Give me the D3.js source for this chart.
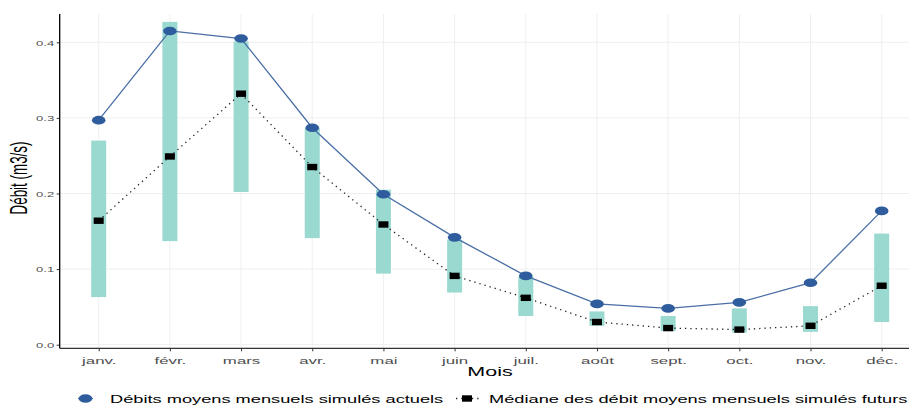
<!DOCTYPE html>
<html>
<head>
<meta charset="utf-8">
<script src="https://cdn.jsdelivr.net/npm/d3@7"></script>
<style>
  html, body { margin: 0; padding: 0; background: #fff; overflow: hidden; }
  svg { display: block; font-family: "Liberation Sans", Arial, sans-serif; }
</style>
</head>
<body>
<svg id="chart" width="909" height="405"></svg>
<script>
// ---- data ----
const months = ["janv.", "févr.", "mars", "avr.", "mai", "juin", "juil.", "août", "sept.", "oct.", "nov.", "déc."];
const actualMean = [0.297, 0.415, 0.405, 0.287, 0.199, 0.142, 0.091, 0.054, 0.048, 0.056, 0.082, 0.177];
const futureMedian = [0.164, 0.249, 0.332, 0.235, 0.159, 0.091, 0.062, 0.030, 0.022, 0.020, 0.025, 0.078];
const futureLow = [0.063, 0.137, 0.202, 0.141, 0.094, 0.069, 0.038, 0.025, 0.018, 0.016, 0.017, 0.030];
const futureHigh = [0.270, 0.427, 0.401, 0.287, 0.205, 0.139, 0.090, 0.044, 0.038, 0.048, 0.051, 0.147];
const yTicks = [0.0, 0.1, 0.2, 0.3, 0.4];
const yTickLabels = ["0.0", "0.1", "0.2", "0.3", "0.4"];
const legendLabels = ["Débits moyens mensuels simulés actuels", "Médiane des débit moyens mensuels simulés futurs"];
const xTitle = "Mois";
const yTitle = "Débit (m3/s)";

// ---- layout ----
const SX = 1.72; // horizontal stretch of the original rendering
const svg = d3.select("#chart");
const panel = { left: 59.7, right: 930, top: 14, bottom: 348.3 };

const x = d3.scalePoint().domain(months).range([98.7, 881.7]);
const y = d3.scaleLinear().domain([0, 0.4]).range([344.7, 42.3]);

const rows = months.map((m, i) => ({
  m, a: actualMean[i], med: futureMedian[i], lo: futureLow[i], hi: futureHigh[i]
}));

// gridlines
const grid = svg.append("g");
grid.selectAll("line.h").data(yTicks).join("line")
  .attr("x1", panel.left).attr("x2", panel.right)
  .attr("y1", d => y(d)).attr("y2", d => y(d))
  .attr("stroke", "#efefef").attr("stroke-width", 1);
grid.selectAll("line.v").data(months).join("line")
  .attr("x1", d => x(d)).attr("x2", d => x(d))
  .attr("y1", panel.top).attr("y2", panel.bottom)
  .attr("stroke", "#efefef").attr("stroke-width", 1);

// range bars
const barW = 15;
svg.append("g").selectAll("rect").data(rows).join("rect")
  .attr("x", d => x(d.m) - barW / 2)
  .attr("width", barW)
  .attr("y", d => y(d.hi))
  .attr("height", d => y(d.lo) - y(d.hi))
  .attr("fill", "#9ad9d0");

// dotted median line
svg.append("path").datum(rows)
  .attr("fill", "none")
  .attr("stroke", "#222")
  .attr("stroke-width", 1.3)
  .attr("stroke-dasharray", "1.3,4")
  .attr("d", d3.line().x(d => x(d.m)).y(d => y(d.med)));

// actual line
svg.append("path").datum(rows)
  .attr("fill", "none")
  .attr("stroke", "#4a6ea6")
  .attr("stroke-width", 1.3)
  .attr("d", d3.line().x(d => x(d.m)).y(d => y(d.a)));

// median squares
svg.append("g").selectAll("rect").data(rows).join("rect")
  .attr("x", d => x(d.m) - 5).attr("y", d => y(d.med) - 3.2)
  .attr("width", 10).attr("height", 6.4)
  .attr("fill", "#000");

// actual points
svg.append("g").selectAll("ellipse").data(rows).join("ellipse")
  .attr("cx", d => x(d.m)).attr("cy", d => y(d.a))
  .attr("rx", 6.8).attr("ry", 4.3)
  .attr("fill", "#2f5c9c");

// axes
const yAxis = svg.append("g")
  .attr("transform", `translate(${panel.left},0)`)
  .call(d3.axisLeft(y).tickValues(yTicks).tickFormat((d, i) => yTickLabels[i]).tickSize(3).tickSizeOuter(0));
yAxis.select(".domain").remove();
yAxis.selectAll(".tick line").attr("stroke", "#333").attr("stroke-width", 1);
yAxis.selectAll(".tick text")
  .attr("x", null).attr("dy", null)
  .attr("transform", `translate(-5.5,2.7) scale(${SX},1)`)
  .attr("text-anchor", "end")
  .attr("font-size", 7.6)
  .attr("fill", "#4d4d4d");

const xAxis = svg.append("g")
  .attr("transform", `translate(0,${panel.bottom})`)
  .call(d3.axisBottom(x).tickSize(3).tickSizeOuter(0));
xAxis.select(".domain").remove();
xAxis.selectAll(".tick line").attr("stroke", "#333").attr("stroke-width", 1);
xAxis.selectAll(".tick text")
  .attr("y", null).attr("dy", null)
  .attr("transform", `translate(0,15.5) scale(${SX},1)`)
  .attr("text-anchor", "middle")
  .attr("font-size", 9.8)
  .attr("fill", "#4d4d4d");

// axis lines
svg.append("line")
  .attr("x1", panel.left).attr("x2", panel.left)
  .attr("y1", panel.top).attr("y2", panel.bottom)
  .attr("stroke", "#000").attr("stroke-width", 1.3);
svg.append("line")
  .attr("x1", panel.left).attr("x2", panel.right)
  .attr("y1", panel.bottom).attr("y2", panel.bottom)
  .attr("stroke", "#333").attr("stroke-width", 1.3);

// titles
svg.append("text")
  .attr("transform", `translate(490,375.5) scale(${SX},1)`)
  .attr("text-anchor", "middle")
  .attr("font-size", 12.5)
  .attr("fill", "#000")
  .text(xTitle);

svg.append("text")
  .attr("transform", `translate(26.5,178) scale(${SX},1) rotate(-90)`)
  .attr("text-anchor", "middle")
  .attr("font-size", 13.4)
  .attr("fill", "#000")
  .text(yTitle);

// legend
const leg = svg.append("g");
const ly = 398.5;
// item 1
leg.append("line").attr("x1", 78).attr("x2", 93).attr("y1", ly).attr("y2", ly)
  .attr("stroke", "#4a6ea6").attr("stroke-width", 1.3);
leg.append("ellipse").attr("cx", 85.5).attr("cy", ly).attr("rx", 6.8).attr("ry", 4.3).attr("fill", "#2f5c9c");
leg.append("text")
  .attr("transform", `translate(110,402.5) scale(${SX},1)`)
  .attr("font-size", 10.6)
  .attr("fill", "#000")
  .text(legendLabels[0]);
// item 2
leg.append("line").attr("x1", 456).attr("x2", 481).attr("y1", ly).attr("y2", ly)
  .attr("stroke", "#222").attr("stroke-width", 1.3).attr("stroke-dasharray", "1.3,4");
leg.append("rect").attr("x", 462).attr("y", ly - 3.2).attr("width", 10).attr("height", 6.4).attr("fill", "#000");
leg.append("text")
  .attr("transform", `translate(489,402.5) scale(${SX},1)`)
  .attr("font-size", 10.6)
  .attr("fill", "#000")
  .text(legendLabels[1]);
</script>
</body>
</html>
